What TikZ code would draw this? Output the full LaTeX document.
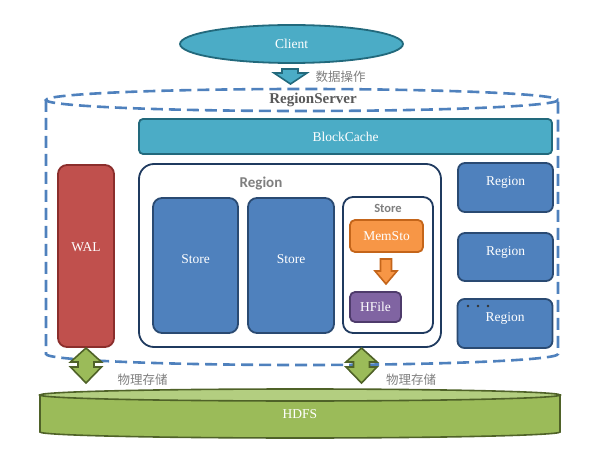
\documentclass[tikz,border=0pt]{standalone}
\usepackage{fontspec}
\setmainfont{Liberation Serif}
\newfontfamily\cjkfont{Noto Sans CJK SC}
\newfontfamily\calfont{Carlito}
\usetikzlibrary{shapes.geometric}
\definecolor{tealF}{HTML}{4BACC6}
\definecolor{tealD}{HTML}{22697C}
\definecolor{blueF}{HTML}{4F81BD}
\definecolor{blueD}{HTML}{2A4A72}
\definecolor{navy}{HTML}{1F3A5F}
\definecolor{redF}{HTML}{C0504D}
\definecolor{redD}{HTML}{8B2E2C}
\definecolor{orF}{HTML}{F79646}
\definecolor{orD}{HTML}{C4651A}
\definecolor{puF}{HTML}{8064A2}
\definecolor{puD}{HTML}{4E3B6B}
\definecolor{grF}{HTML}{9BBB59}
\definecolor{grT}{HTML}{B3CE80}
\definecolor{grD}{HTML}{4F6228}
\definecolor{txtgray}{HTML}{7F7F7F}
\definecolor{dkgray}{HTML}{595959}
\tikzset{
  wtxt/.style={text=white,font=\fontsize{13.5}{16}\selectfont},
  boxsty/.style={draw,line width=1.8pt,inner sep=0pt},
  bluebox/.style={boxsty,fill=blueF,draw=blueD,rounded corners=9pt},
  rsdash/.style={draw=blueF,line width=2.6pt,dash pattern=on 12pt off 6pt},
  cjklab/.style={text=txtgray,font=\cjkfont\fontsize{12.5}{15}\selectfont},
  barrow/.style={line width=1.6pt,line join=miter},
}
\begin{document}
\begin{tikzpicture}[x=1pt,y=-1pt]
\useasboundingbox (0,0) rectangle (592,457);
% RegionServer dashed cylinder
\draw[rsdash] (46,100) -- (46,354) arc[start angle=180,end angle=0,x radius=256,y radius=11] -- (558,100);
\draw[rsdash] (302,100) ellipse [x radius=256, y radius=11];
\node[text=dkgray,font=\bfseries\fontsize{15}{18}\selectfont] (rs) at (313,100) {RegionServer};
% Client
\node[ellipse,boxsty,fill=tealF,draw=tealD,minimum width=223pt,minimum height=38pt,wtxt] (client) at (291.5,44) {Client};
% data-operation arrow
\draw[barrow,fill=tealF,draw=tealD] (282,69) -- (298,69) -- (298,73) -- (307,73) -- (290.5,84) -- (274,73) -- (282,73) -- cycle;
\node[cjklab,anchor=west] (op) at (312,77) {数据操作};
% BlockCache
\node[boxsty,fill=tealF,draw=tealD,rounded corners=4pt,minimum width=413pt,minimum height=35pt,wtxt] (bc) at (345.5,136.5) {BlockCache};
% WAL
\node[boxsty,fill=redF,draw=redD,rounded corners=9pt,minimum width=56pt,minimum height=182pt,
  label={[wtxt,yshift=9pt]center:WAL}] (wal) at (86,256) {};
% Region big box
\node[boxsty,fill=white,draw=navy,rounded corners=15pt,minimum width=302pt,minimum height=183pt] (region) at (290,255.5) {};
\node[text=txtgray,font=\calfont\bfseries\fontsize{15}{18}\selectfont] (regionlab) at (261,184) {Region};
\node[bluebox,minimum width=85pt,minimum height=135pt,label={[wtxt,yshift=6pt]center:Store}] (s1) at (195.5,265.5) {};
\node[bluebox,minimum width=86pt,minimum height=135pt,label={[wtxt,yshift=6pt]center:Store}] (s2) at (291,265.5) {};
\node[boxsty,fill=white,draw=navy,rounded corners=10pt,minimum width=90pt,minimum height=136pt] (s3) at (388,265) {};
\node[text=txtgray,font=\calfont\bfseries\fontsize{12.5}{15}\selectfont] (s3lab) at (388,208) {Store};
\node[boxsty,fill=orF,draw=orD,rounded corners=5pt,minimum width=73pt,minimum height=32pt,wtxt] (mem) at (386.5,236) {MemSto};
\draw[barrow,fill=orF,draw=orD] (380.5,259) -- (391.5,259) -- (391.5,271) -- (397,271) -- (386,284) -- (375,271) -- (380.5,271) -- cycle;
\node[boxsty,fill=puF,draw=puD,rounded corners=5pt,minimum width=51pt,minimum height=30pt,wtxt] (hfile) at (375.5,307) {HFile};
% right regions
\node[bluebox,rounded corners=7pt,minimum width=95pt,minimum height=49pt,label={[wtxt,yshift=5pt]center:Region}] (r1) at (505.5,187.5) {};
\node[bluebox,rounded corners=7pt,minimum width=95pt,minimum height=48pt,label={[wtxt,yshift=5pt]center:Region}] (r2) at (505.5,257) {};
\node[bluebox,rounded corners=7pt,minimum width=95pt,minimum height=49pt,label={[wtxt,yshift=5pt]center:Region}] (r3) at (505,323.5) {};
\foreach \dx in {468,478,488} \fill[black!80] (\dx,306) circle (1.3);
% HDFS cylinder
\draw[line width=1.6pt,draw=grD,fill=grF] (40,395) -- (40,432) arc[start angle=180,end angle=0,x radius=260,y radius=6] -- (560,395) -- cycle;
\draw[line width=1.6pt,draw=grD,fill=grT] (300,395) ellipse [x radius=260, y radius=6];
\node[wtxt] (hdfs) at (300,414) {HDFS};
% physical storage arrows
\foreach \cx/\nm in {86/a, 361.5/b} {
  \draw[barrow,fill=grF,draw=grD] (\cx,348) -- (\cx+15.5,362) -- (\cx+8,362) -- (\cx+8,367) -- (\cx+15.5,367) -- (\cx,383) -- (\cx-15.5,367) -- (\cx-8,367) -- (\cx-8,362) -- (\cx-15.5,362) -- cycle;
}
\node[cjklab] (ps1) at (142.5,380) {物理存储};
\node[cjklab] (ps2) at (411,380) {物理存储};
\end{tikzpicture}
\end{document}
